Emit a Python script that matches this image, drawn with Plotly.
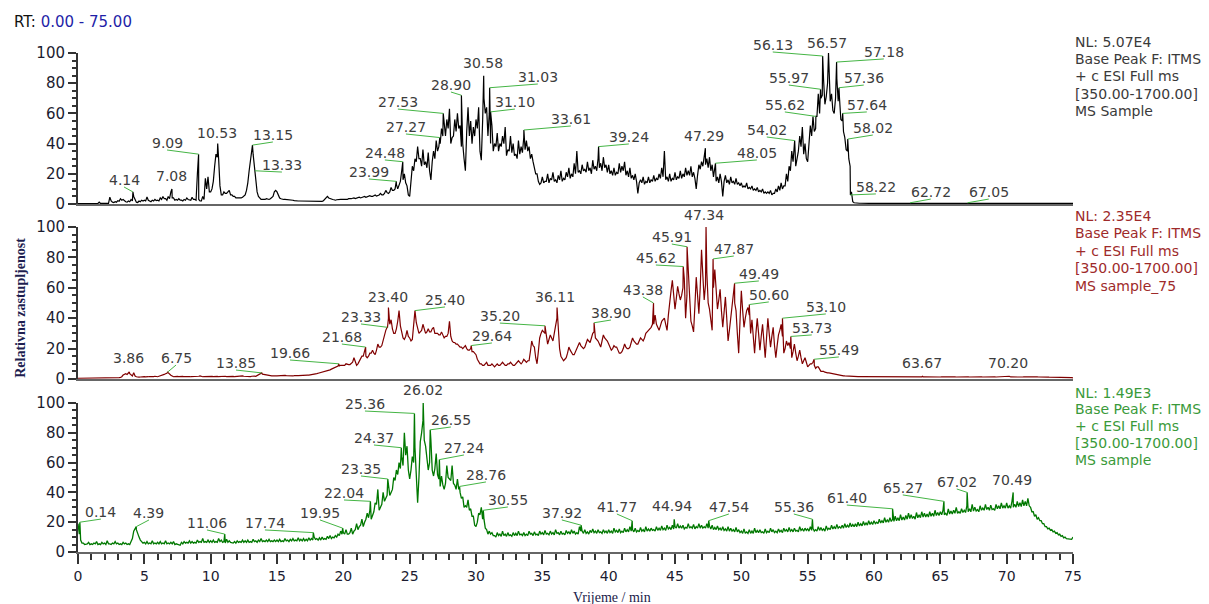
import numpy as np
import plotly.graph_objects as go

# ---------------- data ----------------
# Signals: values on a 0.2-min grid (t = 0.0, 0.2, ...)
# plus in-between samples (t = 0.1, 0.3, ...) that capture the noise band.
STEP = 0.2
rt_grid = [round(i * STEP, 2) for i in range(376)]            # 0.00 ... 75.00
rt_mid = [round(0.1 + i * STEP, 2) for i in range(375)]        # 0.10 ... 74.90

top_signal = (
    [0.3,0.3,0.3,0.3,0.3,0.3,0.3,0.3,1.2,0.4,0.4,0.5,4.5,1.2,1.5,2.2,3.5,3.0,1.5,2.0,3.0,5.0,1.2,2.0,2.5] +
    [2.5,4.6,2.0,2.5,3.0,2.5,4.0,5.0,3.5,5.0,8.0,4.0,3.0,3.5,2.5,3.0,4.0,3.0,4.5,3.0,20,2.0,5.0,17,18] +
    [8,15,33,30,6,8,7,9,6,5,4,4,4.5,6,14,30,33,20,5,3,3,3.5,3,4,8] +
    [8,4,3,3,3,2.5,2.5,2,2,2,1.8,1.8,1.5,1.5,1.5,1.5,1.5,1.8,3,5,3.5,3,2.5,3,3] +
    [3,3.2,3.5,3.5,4,4,4.5,4.2,5,4.8,5.5,5,6,5.5,7,6,9,7,11,9,13,12,22,20,12] +
    [5,25,30,38,30,36,28,34,16,35,42,38,50,55,56,63,44,56,60,52,40,22,64,55,51] +
    [56,64,29,70,64,60,52,40,47,40,45,51,36,45,40,33,42,38,44,42,38,33,24,20,13] +
    [18,15,20,17,21,16,19,22,17,21,24,20,27,35,22,26,23,28,24,29,25,30,27,31,26] +
    [26,22,24,21,27,25,28,22,24,19,20,7,16,18,15,18,16,19,17,20,24,35,18,20,17] +
    [21,18,22,20,24,22,25,21,10,26,28,33,30,31,26,24,18,20,5,19,16,18,15,17,14] +
    [14,12,14,11,12,10,11,9,10,8,8,9,7,10,12,14,12,20,25,35,38,30,45,51,40] +
    [28,52,58,50,73,70,82,71,90,73,60,83,70,55,44,35,25,1.5,0.6,0.5,0.5,0.4,0.4,0.4,0.4] +
    [0.4,0.4,0.5,0.4,0.4,0.4,0.5,0.4,0.4,0.4,0.4,0.5,0.4,0.4,0.4,0.4,0.4,0.5,0.4,0.4,0.4,0.4,0.4,0.4,0.4] +
    [0.4,0.4,0.4,0.5,0.4,0.4,0.4,0.4,0.4,0.5,0.4,0.4,0.4,0.4,0.4,0.4,0.5,0.4,0.4,0.4,0.4,0.4,0.4,0.4,0.4] +
    [0.4,0.4,0.4,0.4,0.5,0.4,0.4,0.4,0.4,0.4,0.4,0.4,0.4,0.5,0.4,0.4,0.4,0.4,0.4,0.4,0.4,0.4,0.4,0.4,0.4] +
    [0.4]
)
top_between = (
    [0.3,0.3,0.3,0.3,0.3,0.3,0.3,0.3,0.4,0.3,0.3,0.4,2.0,1.0,1.2,1.8,2.5,2.0,1.2,1.5,2.0,2.5,1.0,1.5,2.0] +
    [2.0,2.5,1.5,2.0,2.2,2.0,3.0,3.5,2.5,3.5,4.0,2.5,2.5,2.5,2.0,2.5,3.0,2.5,3.0,2.5,3.0,2.0,3.0,10,8] +
    [10,25,31,12,6,7,8,6,5,4,4,4,5,9,22,35,25,8,4,3,3,3,3.5,5,9] +
    [6,3.5,3,3,2.8,2.5,2.2,2,2,1.9,1.8,1.6,1.5,1.5,1.5,1.5,1.6,2.2,4,4,3,2.8,2.8,3,3] +
    [3,3,3.3,3.8,3.6,4.2,4,4.6,4.4,5,5,5.5,5.2,6,6,7,7.5,8,9,10,10,15,16,14,6] +
    [15,22,28,30,25,26,24,22,28,30,35,40,45,45,50,40,45,48,50,38,30,48,45,40,45] +
    [50,35,55,60,45,40,35,38,35,38,40,32,35,34,32,30,33,34,36,35,30,28,20,15,14] +
    [14,15,14,16,15,14,16,15,16,18,17,18,20,21,20,22,21,22,20,23,22,24,22,24,21] +
    [20,19,19,20,21,22,19,18,17,16,15,14,14,13,14,14,15,15,16,17,18,16,15,15,16] +
    [16,17,17,18,19,19,18,17,19,23,25,26,24,22,18,15,14,15,15,14,13,14,13,13,12] +
    [11,11,10,10,9,9,8,8,7,7,7,6,7,8,9,10,12,15,22,28,25,35,38,33,30] +
    [40,45,48,58,60,72,66,80,68,62,70,68,56,48,36,30,8,0.8,0.5,0.5,0.4,0.4,0.4,0.4,0.4] +
    [0.4,0.4,0.4,0.4,0.4,0.4,0.4,0.4,0.4,0.4,0.4,0.4,0.4,0.4,0.4,0.4,0.4,0.4,0.4,0.4,0.4,0.4,0.4,0.4,0.4] +
    [0.4,0.4,0.4,0.4,0.4,0.4,0.4,0.4,0.4,0.4,0.4,0.4,0.4,0.4,0.4,0.4,0.4,0.4,0.4,0.4,0.4,0.4,0.4,0.4,0.4] +
    [0.4,0.4,0.4,0.4,0.4,0.4,0.4,0.4,0.4,0.4,0.4,0.4,0.4,0.4,0.4,0.4,0.4,0.4,0.4,0.4,0.4,0.4,0.4,0.4,0.4]
)

mid_signal = (
    [0.5,0.5,0.5,0.5,0.5,0.5,0.5,0.5,0.5,0.5,0.5,0.6,0.6,0.7,0.8,0.9,1.0,2.6,3.5,4.0,3.0,4.2,1.5,1.2,1.5] +
    [1.5,1.3,1.6,1.4,1.8,1.5,2.0,2.5,3.5,4.0,2.5,1.5,1.8,1.6,2.0,1.5,1.8,1.6,1.5,1.8,1.6,2.0,1.5,1.7,1.8] +
    [1.8,1.6,1.9,1.5,1.7,2.0,1.6,1.8,2.0,1.5,1.8,1.6,2.0,1.7,1.9,1.6,2.0,1.8,2.5,3.5,3.0,2.5,2.2,2.0,2.3] +
    [2.0,2.2,2.0,2.4,2.1,2.3,2.0,2.5,2.2,2.4,2.3,2.6,2.5,2.8,3.0,3.5,4.0,4.5,5.0,5.5,6.0,7.0,7.5,8.5,9.0] +
    [9,10,9.5,10.5,14,9,12,15,18,14,17,19,16,23,21,26,32,40,39,30,33,45,30,26,32] +
    [27,26,42,34,31,36,30,33,31,34,30,29,31,27,28,38,25,24,23,21,20,22,19,20,18] +
    [16,11,10,9,11,9,10,8,10,9,11,9,10,11,9,10,12,10,13,11,12,25,21,10,27] +
    [32,30,23,29,25,36,30,15,12,14,21,17,16,20,24,21,21,26,24,30,27,25,21,29,26] +
    [23,19,22,21,17,18,23,20,21,27,24,23,27,25,30,32,34,36,36,32,38,40,32,52,65] +
    [46,61,52,60,40,72,38,31,67,43,85,52,70,46,32,72,46,59,34,54,25,40,55,45,17] +
    [58,34,45,42,39,17,40,19,36,14,40,21,34,14,29,36,17,25,24,14,23,12,19,10,14] +
    [8,10,11,7,8,5,5,4,4,3.5,3,2.8,2.5,2.2,2.0,1.8,1.8,1.6,1.6,1.5,1.5,1.5,1.4,1.5,1.4] +
    [1.4,1.3,1.4,1.3,1.4,1.3,1.4,1.4,1.3,1.4,1.3,1.4,1.4,1.3,1.4,1.3,1.4,1.3,1.4,1.4,1.3,1.4,1.3,1.4,1.3] +
    [1.3,1.4,1.3,1.4,1.3,1.4,1.3,1.3,1.4,1.3,1.4,1.3,1.4,1.3,1.3,1.4,1.3,1.4,1.3,1.3,1.4,1.3,1.4,1.3,1.3] +
    [1.3,1.4,1.3,1.3,1.4,1.3,1.3,1.4,1.3,1.3,1.3,1.4,1.3,1.3,1.2,1.3,1.2,1.2,1.3,1.2,1.2,1.2,1.1,1.1,1.0] +
    [0.8]
)
mid_between = (
    [0.5,0.5,0.5,0.5,0.5,0.5,0.5,0.5,0.5,0.5,0.5,0.6,0.6,0.7,0.8,0.9,1.5,3.0,3.0,3.5,2.0,2.0,1.2,1.3,1.4] +
    [1.4,1.5,1.5,1.6,1.6,1.8,2.2,3.0,3.8,3.0,2.0,1.6,1.7,1.8,1.7,1.6,1.7,1.5,1.6,1.7,1.8,1.6,1.6,1.7,1.7] +
    [1.7,1.7,1.7,1.6,1.8,1.8,1.7,1.9,1.7,1.6,1.7,1.8,1.8,1.8,1.7,1.8,1.9,2.2,3.0,3.2,2.8,2.3,2.1,2.1,2.1] +
    [2.1,2.1,2.2,2.2,2.2,2.1,2.2,2.3,2.3,2.3,2.4,2.5,2.6,2.9,3.2,3.8,4.2,4.8,5.2,5.8,6.5,7.2,8,8.6,9] +
    [9,9.5,9.5,11,11,10,13,15,15,15,17,17,19,21,22,28,34,36,33,30,38,35,27,28,28] +
    [25,34,37,30,32,32,31,31,33,30,30,29,29,28,30,28,24,23,22,21,21,20,19,18,17] +
    [13,10,9,10,9,9,9,9,9,10,10,9,10,10,9,11,11,11,12,12,18,22,14,18,30] +
    [31,27,26,27,30,40,20,13,13,17,19,16,18,22,22,20,23,25,27,31,26,23,25,27,25] +
    [21,20,21,19,17,20,21,20,24,25,23,25,26,27,31,33,36,42,34,35,39,36,42,58,55] +
    [53,56,55,66,55,55,35,48,55,60,68,62,50,40,60,58,52,45,44,40,32,48,50,30,38] +
    [45,40,47,30,28,30,30,28,25,27,30,28,22,22,32,28,20,22,20,18,17,15,14,12,11] +
    [9,10,9,8,6,5,4.5,4,3.8,3.2,2.9,2.6,2.3,2.1,1.9,1.8,1.7,1.6,1.5,1.5,1.5,1.4,1.5,1.4,1.4] +
    [1.35,1.35,1.35,1.35,1.35,1.35,1.35,1.35,1.35,1.35,1.35,1.35,1.35,1.35,1.35,1.35,1.35,1.35,1.35,1.35,1.35,1.35,1.35,1.35,1.35] +
    [1.35,1.35,1.35,1.35,1.35,1.35,1.35,1.35,1.35,1.35,1.35,1.35,1.35,1.35,1.35,1.35,1.35,1.35,1.35,1.35,1.35,1.35,1.35,1.35,1.35] +
    [1.35,1.35,1.35,1.35,1.35,1.35,1.35,1.35,1.35,1.35,1.35,1.35,1.35,1.3,1.25,1.25,1.2,1.2,1.2,1.2,1.2,1.15,1.1,1.0,0.9]
)

bot_signal = (
    [19,8,6,5,6.5,5.5,6,7,5.5,6.5,6,7.5,5.5,6,7,6,5.5,6.5,6,5.5,7,14,15,10,7] +
    [6.5,7,6,7.5,6,6.5,7,6,7.5,6,6.5,7,5.5,5,6.5,7,6.5,7.5,7,6.5,8,7,9,7,8] +
    [7.5,8,7,9,8,7,8.5,7.5,6.5,7,7.5,7,8,7.5,8,7,8.5,7.5,8,9,7.5,8,8.5,7.5,8] +
    [8,8.5,7.5,9,8,8.5,9,8,9.5,8.5,9,8.5,9.5,9,10,9,9.5,10,9,10.5,11,10,11,12,14] +
    [13,15,12,16,14,19,17,22,20,26,28,25,33,42,30,40,36,45,40,50,55,60,64,80,71] +
    [49,64,70,33,74,88,71,55,75,51,66,49,51,42,58,49,58,45,49,40,37,31,35,29,24] +
    [17,26,30,22,15,14,13,11,13,12,14,12,13,11.5,13,12.5,14,12,13,12,14,12.5,13.5,12,14] +
    [13,14.5,12.5,14,13,15,13,14,12.5,14.5,13.5,15,14,13,17,14,15,13.5,14.5,15.5,14,15,13.5,15,14] +
    [15,14,16,14.5,15.5,14,16,15,17,15,16,14.5,16.5,15,17,15.5,16,15,17,16,17.5,16,18,16.5,18] +
    [17,19,17.5,18,16.5,19,17,18.5,17,19,18,17,19,17.5,18,16.5,17.5,16,17,15.5,17,16,15,16.5,15] +
    [14,15.5,13.5,15,14,16,14.5,15,13.5,15.5,14,16,15,14,15.5,14.5,16,15,16.5,15,16,14.5,17,15.5,16] +
    [15.5,17,16,15,17,16.5,15.5,17.5,16,18,17,18.5,17,18,19,18,19.5,18.5,19,20,19,20.5,19.5,21,20] +
    [21,20,22,21,23,21.5,23,22,24,23,25,23.5,24.5,26,25,24,26.5,25,27,26,25.5,27,26,28,26.5] +
    [27,28,26,29,27.5,28,30,27,29,28,31,29,32,30,28.5,31,29.5,32,30,31.5,29,32,31,33,31] +
    [33,31,34,32,34,33,35,34,36,30,27,25,23,21,19,17,16,15,14,13,12,11,10,9,9] +
    [10]
)
bot_between = (
    [12,6,5,5.5,5,5,5.5,5,5,5.5,5,5.5,5,5.5,5.5,5,5,5.5,5,5,9,16,12,8,6] +
    [5.5,5.5,5.5,5.5,5.5,5.5,5.5,5.5,5.5,5.5,5.5,5,5,4.5,5.5,6,6,6,6,6,6.5,6.5,6.5,6.5,6.5] +
    [6.5,6.5,6.5,7,6.5,6,6.5,6.5,6,6,6.5,6.5,6.5,6.5,6.5,6.5,7,6.5,7,7,7,7,7,7,7] +
    [7,7,7,7.5,7,7.5,7.5,7.5,7.5,7.5,7.5,7.5,8,8,8.5,8,8,8.5,8.5,9,9,9.5,10,11,12] +
    [12,12,13,12,15,15,18,17,22,23,22,27,32,28,32,34,38,38,42,48,52,56,58,65,55] +
    [55,60,45,50,80,75,60,60,55,56,52,44,45,46,50,48,46,42,42,36,30,30,28,24,18] +
    [20,25,22,16,12,12,11,10,11,10.5,11,10.5,11,10.5,11,11,11.5,11,11,11,12,11,11.5,11,12] +
    [11.5,12,11.5,12,11.5,12.5,11.5,12,11.5,12.5,12,12.5,12,12,14,12.5,12.5,12,13,13,12.5,13,12.5,13,12.5] +
    [13,12.5,13.5,13,13,13,13.5,13.5,14,13.5,13.5,13.5,14,13.5,14,14,14.5,14,14.5,14.5,15,14.5,15.5,15,15.5] +
    [16,16,16,15.5,16,16,16,15.5,16,16,16,16,16,15.5,15,15,15,14.5,14.5,14,14,14,13.5,13.5,13] +
    [12.5,12.5,12.5,12.5,12.5,13,13,13,12.5,13,13,13.5,13,13,13.5,13,14,13.5,14,13.5,14,13.5,14.5,14,14.5] +
    [14,14.5,14,14,14.5,14.5,14,15,15,15.5,15.5,16,16,16,16.5,16.5,17,17,17,17.5,17.5,18,18,18.5,18.5] +
    [19,19,19.5,19.5,20,20,20.5,20.5,21,21,21.5,21.5,22,22.5,22.5,22,23,23,23.5,23.5,23.5,24,24,24.5,24.5] +
    [25,25,24.5,25.5,25.5,26,26,26,26.5,26.5,27,27,27.5,27.5,27,28,28,28.5,28,28.5,28,29,29,29.5,29.5] +
    [29.5,29.5,30,30,30.5,30.5,31,31,31,27,24,22,21,19,17,15.5,14.5,13.5,12.5,11.5,10.5,9.5,9,8.5,8.5]
)

# labelled peaks: retention time (min) and apex height (%)
top_peak_rt = [4.14, 7.08, 9.09, 10.53, 13.15, 13.33, 23.99, 24.48, 27.27, 27.53, 28.90, 30.58,
               31.03, 31.10, 33.61, 39.24, 47.29, 48.05, 54.02, 55.62, 55.97, 56.13, 56.57, 57.18,
               57.36, 57.64, 58.02, 58.22, 62.72, 67.05]
top_peak_h = [8, 10, 33, 40, 39, 22, 15, 28, 44, 60, 72, 85,
              77, 61, 49, 38, 37, 27, 42, 58, 76, 98, 100, 94,
              77, 60, 43, 6, 0.8, 0.8]

mid_peak_rt = [3.86, 6.75, 13.85, 19.66, 21.68, 23.33, 23.40, 25.40, 29.64, 35.20, 36.11, 38.90,
               43.38, 45.62, 45.91, 47.34, 47.87, 49.49, 50.60, 53.10, 53.73, 55.49, 63.67, 70.20]
mid_peak_h = [4.6, 4.5, 4, 10, 21, 34, 47, 45, 22, 35, 47, 37,
              50, 74, 87, 100, 79, 63, 49, 40, 28, 13, 1.8, 1.8]

bot_peak_rt = [0.14, 4.39, 11.06, 17.74, 19.95, 22.04, 23.35, 24.37, 25.36, 26.02, 26.55, 27.24,
               28.76, 30.55, 37.92, 41.77, 44.94, 47.54, 55.36, 61.40, 65.27, 67.02, 70.49]
bot_peak_h = [20, 17, 12, 13, 16, 34, 49, 70, 93, 100, 82, 62,
              44, 28, 18, 21, 22, 21, 22, 29, 34, 40, 40]

panel_info = [
    ("NL: 5.07E4", "MS Sample"),
    ("NL: 2.35E4", "MS sample_75"),
    ("NL: 1.49E3", "MS sample"),
]

# ---------------- layout helpers (label placement, not data) ----------------
top_label_pos = [(3.47, 15.9), (7.01, 18.5), (6.71, 40.4), (10.47, 47.0), (14.69, 45.7), (15.37, 25.8),
                 (21.93, 21.2), (23.13, 33.8), (24.72, 51.0), (24.11, 67.5), (28.11, 78.8), (30.52, 93.4),
                 (34.66, 84.1), (32.93, 67.5), (37.15, 56.3), (41.52, 44.4), (47.17, 45.0), (51.17, 33.8),
                 (51.92, 49.0), (53.28, 65.6), (53.58, 83.4), (52.37, 105.3), (56.44, 106.6), (60.74, 100.7),
                 (59.23, 83.4), (59.46, 65.6), (59.91, 50.3), (60.14, 11.3), (64.28, 7.9), (68.65, 7.9)]
mid_label_pos = [(3.84, 13.8), (7.39, 13.8), (11.91, 10.5), (15.98, 17.1), (19.89, 27.6), (21.33, 40.8),
                 (23.36, 53.9), (27.66, 52.0), (31.20, 28.3), (31.80, 41.4), (35.95, 53.9), (40.17, 43.4),
                 (42.58, 58.6), (43.56, 79.6), (44.76, 93.4), (47.17, 107.9), (49.43, 85.5), (51.32, 69.1),
                 (52.07, 55.3), (56.37, 47.4), (55.31, 33.6), (57.35, 19.1), (63.60, 10.5), (70.08, 10.5)]
bot_label_pos = [(1.73, 26.8), (5.35, 26.2), (9.72, 19.5), (14.09, 19.5), (18.24, 26.2), (20.05, 39.6),
                 (21.33, 55.7), (22.31, 76.5), (21.63, 99.3), (26.00, 108.7), (28.11, 88.6), (29.09, 69.8),
                 (30.75, 51.7), (32.40, 34.9), (36.47, 26.2), (40.62, 30.2), (44.76, 30.9), (49.06, 30.2),
                 (53.96, 30.2), (57.95, 36.2), (62.17, 43.0), (66.24, 47.0), (70.38, 48.3)]

W, H = 1209, 604
# the page adds an 8 px body margin, so the margins are shifted by 8 px
M_L, M_R, M_T, M_B = 70, 144, 45, 60
PLOT_H = H - M_T - M_B
domains = [[0.6974, 1.0], [0.3467, 0.6513], [0.0, 0.2986]]
colors = ["#000000", "#800000", "#007800"]
line_widths = [1.2, 1.2, 1.3]
info_colors = ["#3a3a3a", "#9e2a2a", "#3a9a3a"]
FONT = "DejaVu Sans"
SERIF = "Liberation Serif"


def build_series(grid_vals, between_vals, peak_rt, peak_h):
    assert len(grid_vals) == len(rt_grid)
    assert len(between_vals) == len(rt_mid)
    x = np.array(list(rt_grid) + list(rt_mid) + list(peak_rt), dtype=float)
    y = np.array(list(grid_vals) + list(between_vals) + list(peak_h), dtype=float)
    order = np.argsort(x, kind="stable")
    return x[order], y[order]


fig = go.Figure()
signals = [(top_signal, top_between), (mid_signal, mid_between), (bot_signal, bot_between)]
peaks = [(top_peak_rt, top_peak_h), (mid_peak_rt, mid_peak_h), (bot_peak_rt, bot_peak_h)]
label_pos = [top_label_pos, mid_label_pos, bot_label_pos]

annotations = []
shapes = []
for k in range(3):
    xs, ys = build_series(signals[k][0], signals[k][1], *peaks[k])
    xa = "x" if k == 0 else f"x{k+1}"
    ya = "y" if k == 0 else f"y{k+1}"
    ydom = f"{ya} domain"
    fig.add_trace(go.Scatter(x=xs, y=ys, mode="lines", xaxis=xa, yaxis=ya,
                             line=dict(color=colors[k], width=line_widths[k]), hoverinfo="skip",
                             showlegend=False))
    ppu = (domains[k][1] - domains[k][0]) * PLOT_H / 100.0  # pixels per % unit
    for rt, h, (tx, ty) in zip(peaks[k][0], peaks[k][1], label_pos[k]):
        annotations.append(dict(x=tx, y=ty / 100.0, xref=xa, yref=ydom, text=f"{rt:.2f}",
                                showarrow=False, xanchor="center", yanchor="middle",
                                font=dict(family=FONT, size=14, color="#3d3d3d")))
        if abs(tx - rt) > 0.3:
            shapes.append(dict(type="line", xref=xa, yref=ydom, x0=rt, y0=h / 100.0,
                               x1=tx, y1=(ty - 7.0 / ppu) / 100.0,
                               line=dict(color="#45b545", width=1)))
    # right-hand info block
    nl, name = panel_info[k]
    lines = [(nl, 107), ("Base Peak F: ITMS", 96), ("+ c ESI Full ms", 84.5),
             ("[350.00-1700.00]", 73), (name, 61.5)]
    for txt, yy in lines:
        annotations.append(dict(x=1.0, y=yy / 100.0, xref="paper", yref=ydom, text=txt,
                                showarrow=False, xanchor="left", yanchor="middle",
                                font=dict(family=FONT, size=14, color=info_colors[k])))

# axis titles and RT range
annotations.append(dict(x=-0.058, y=0.49, xref="paper", yref="paper", text="<b>Relativna zastupljenost</b>",
                        textangle=-90, showarrow=False, xanchor="center", yanchor="middle",
                        font=dict(family=SERIF, size=14, color="#1e1e50")))
annotations.append(dict(x=0.537, y=-0.092, xref="paper", yref="paper", text="Vrijeme / min",
                        showarrow=False, xanchor="center", yanchor="middle",
                        font=dict(family=SERIF, size=14, color="#1a1a4a")))
annotations.append(dict(x=-0.066, y=1.062, xref="paper", yref="paper",
                        text="RT: <span style='color:#1f1fa8'>0.00 - 75.00</span>",
                        showarrow=False, xanchor="left", yanchor="middle",
                        font=dict(family=FONT, size=15, color="#111111")))

layout = dict(
    width=W, height=H,
    margin=dict(l=M_L, r=M_R, t=M_T, b=M_B),
    paper_bgcolor="white", plot_bgcolor="white",
    annotations=annotations, shapes=shapes, showlegend=False,
)
tickfont = dict(family=FONT, size=15, color="#1c1c30")
for k in range(3):
    xkey = "xaxis" if k == 0 else f"xaxis{k+1}"
    ykey = "yaxis" if k == 0 else f"yaxis{k+1}"
    xa = "x" if k == 0 else f"x{k+1}"
    ya = "y" if k == 0 else f"y{k+1}"
    xax = dict(range=[0, 75], domain=[0, 1], anchor=ya, showline=True, linecolor="#666666",
               linewidth=2, showgrid=False, zeroline=False)
    if k < 2:
        xax.update(ticks="", showticklabels=False)
    else:
        xax.update(ticks="outside", tick0=0, dtick=5, ticklen=10, tickwidth=1.5, tickcolor="#333333",
                   tickfont=dict(family=FONT, size=14, color="#1c1c30"),
                   minor=dict(ticks="outside", dtick=1, ticklen=6, tickwidth=1.5, tickcolor="#333333"))
    layout[xkey] = xax
    layout[ykey] = dict(range=[0, 100], domain=domains[k], anchor=xa, showline=True,
                        linecolor="#333333", linewidth=2, showgrid=False, zeroline=False,
                        ticks="outside", tick0=0, dtick=20, ticklen=8, tickwidth=1.5,
                        tickcolor="#333333", tickfont=tickfont,
                        minor=dict(ticks="outside", dtick=5, ticklen=4, tickwidth=1.5,
                                   tickcolor="#333333"))

fig.update_layout(**layout)
fig.write_html("out.html")
